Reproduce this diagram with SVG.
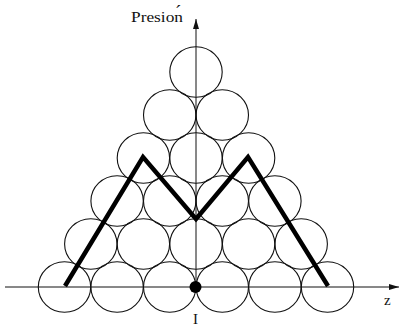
<svg xmlns="http://www.w3.org/2000/svg" width="400" height="327" viewBox="0 0 400 327">
<style>
.c{fill:none;stroke:#111;stroke-width:1.1}
.ax{fill:none;stroke:#111;stroke-width:1}
.t{font-family:"Liberation Serif","Times New Roman",serif;fill:#111}
</style>
<defs>
<marker id="ah" viewBox="0 0 10 8" refX="10" refY="4" markerWidth="10" markerHeight="8" markerUnits="userSpaceOnUse" orient="auto">
<path d="M0,1 L10,4 L0,7 Z" fill="#111"/>
</marker>
</defs>
<rect width="400" height="327" fill="#fff"/>
<g id="circles">
<g id="row1">
<ellipse class="c" cx="64.5" cy="287" rx="26.2" ry="25.3"/>
<ellipse class="c" cx="117.1" cy="287" rx="26.2" ry="25.3"/>
<ellipse class="c" cx="169.7" cy="287" rx="26.2" ry="25.3"/>
<ellipse class="c" cx="222.3" cy="287" rx="26.2" ry="25.3"/>
<ellipse class="c" cx="274.9" cy="287" rx="26.2" ry="25.3"/>
<ellipse class="c" cx="327.5" cy="287" rx="26.2" ry="25.3"/>
</g>
<g id="row2">
<ellipse class="c" cx="90.8" cy="244" rx="26.2" ry="25.3"/>
<ellipse class="c" cx="143.4" cy="244" rx="26.2" ry="25.3"/>
<ellipse class="c" cx="196" cy="244" rx="26.2" ry="25.3"/>
<ellipse class="c" cx="248.6" cy="244" rx="26.2" ry="25.3"/>
<ellipse class="c" cx="301.2" cy="244" rx="26.2" ry="25.3"/>
</g>
<g id="row3">
<ellipse class="c" cx="117.1" cy="201" rx="26.2" ry="25.3"/>
<ellipse class="c" cx="169.7" cy="201" rx="26.2" ry="25.3"/>
<ellipse class="c" cx="222.3" cy="201" rx="26.2" ry="25.3"/>
<ellipse class="c" cx="274.9" cy="201" rx="26.2" ry="25.3"/>
</g>
<g id="row4">
<ellipse class="c" cx="143.4" cy="158" rx="26.2" ry="25.3"/>
<ellipse class="c" cx="196" cy="158" rx="26.2" ry="25.3"/>
<ellipse class="c" cx="248.6" cy="158" rx="26.2" ry="25.3"/>
</g>
<g id="row5">
<ellipse class="c" cx="169.7" cy="115" rx="26.2" ry="25.3"/>
<ellipse class="c" cx="222.3" cy="115" rx="26.2" ry="25.3"/>
</g>
<g id="row6">
<ellipse class="c" cx="196" cy="72" rx="26.2" ry="25.3"/>
</g>
</g>
<g id="connectors">
<line class="ax" x1="5" y1="287" x2="399" y2="287" marker-end="url(#ah)"/>
<line class="ax" x1="196" y1="287" x2="196" y2="19" marker-end="url(#ah)"/>
<polyline points="65,286 143,157 196,219 248,157 328,286" fill="none" stroke="#000" stroke-width="4.5" stroke-linejoin="miter"/>
</g>
<g id="origin">
<circle cx="195.5" cy="287" r="6" fill="#000"/>
</g>
<g id="labels">
<text class="t" x="131" y="22" font-size="15" textLength="52" lengthAdjust="spacingAndGlyphs">Presion</text>
<text class="t" x="175" y="18" font-size="19">´</text>
<text class="t" x="384" y="305" font-size="15">z</text>
<text class="t" x="193" y="324" font-size="15">I</text>
</g>
</svg>
